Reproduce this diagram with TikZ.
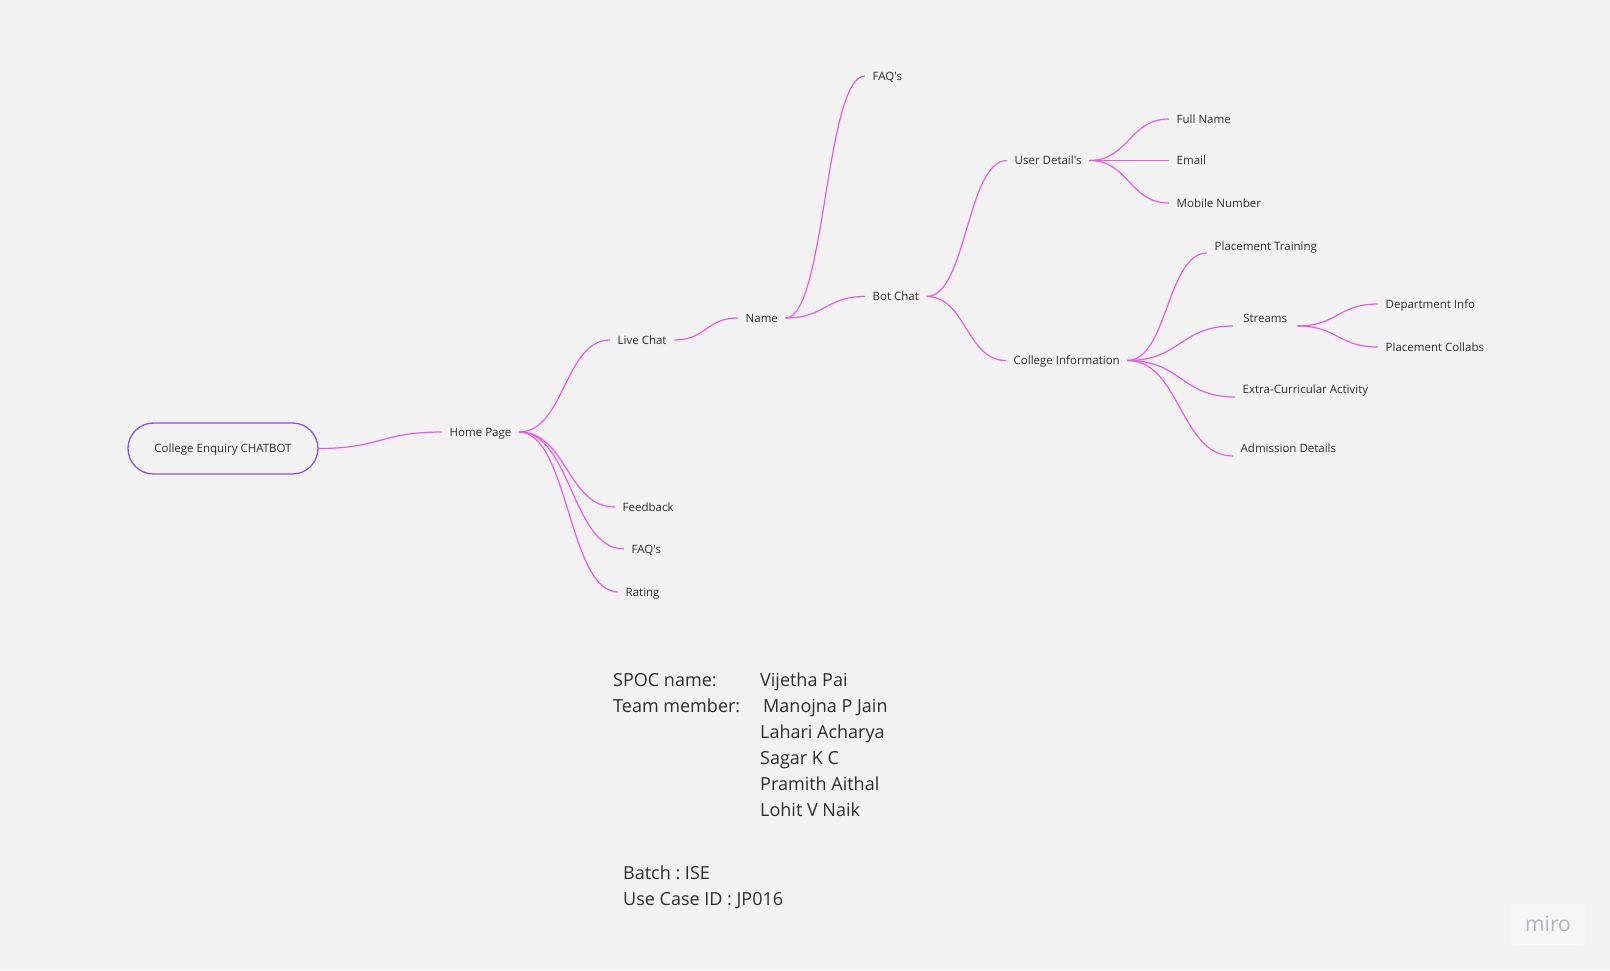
\documentclass[tikz,border=0pt]{standalone}
\usepackage{fontspec}
\setmainfont{Open Sans}[Ligatures=TeXOff]
\usetikzlibrary{calc}
\frenchspacing

\definecolor{canvas}{RGB}{242,242,242}
\definecolor{linkpink}{RGB}{232,92,228}
\definecolor{rootpurple}{RGB}{134,84,228}
\definecolor{labeltext}{RGB}{45,45,45}
\definecolor{mirobox}{RGB}{246,246,246}
\definecolor{mirogray}{RGB}{180,180,192}

% curved mind-map connector: leaves and enters horizontally
\newcommand\mmlink[2]{%
  \draw[link] let \p1=(#1), \p2=(#2) in
    (\p1) .. controls ({(\x1+\x2)/2},\y1) and ({(\x1+\x2)/2},\y2) .. (\p2);}

\begin{document}
\begin{tikzpicture}[x=1pt,y=-1pt,
  link/.style={draw=linkpink, line width=1.2pt},
  topic/.style={font=\fontsize{11.5}{14}\selectfont, text=labeltext,
    inner xsep=7.5pt, inner ysep=2pt, text height=8.2pt, text depth=0pt, anchor=west},
  rootnode/.style={draw=rootpurple, line width=1.3pt, rounded corners=25.5pt,
    minimum width=190pt, minimum height=51pt, inner sep=0pt,
    text height=8.2pt, text depth=0pt,
    font=\fontsize{11.5}{14}\selectfont, text=labeltext},
  info/.style={font=\fontsize{18}{22}\selectfont, text=labeltext, inner sep=0pt, anchor=base west}]

\fill[canvas] (0,0) rectangle (1610,970);
\useasboundingbox (0,0) rectangle (1610,970);

% central topic
\node[rootnode] (root) at (223,448.5) {College Enquiry CHATBOT};

% first level
\node[topic] (home) at (442,432) {Home Page};

% branches of the home page
\node[topic] (live) at (610,340) {Live Chat};
\node[topic] (feedback) at (615,507) {Feedback};
\node[topic] (faq) at (624,549) {FAQ's};
\node[topic] (rating) at (618,592) {Rating};

\node[topic] (name) at (738,318) {Name};
\node[topic] (faqtop) at (865,76) {FAQ's};
\node[topic] (bot) at (865,296.5) {Bot Chat};

\node[topic] (user) at (1007,160.5) {User Detail's};
\node[topic] (fullname) at (1169,119) {Full Name};
\node[topic] (email) at (1169,160.5) {Email};
\node[topic] (mobile) at (1169,203) {Mobile Number};

\node[topic] (college) at (1006,360.5) {College Information};
\node[topic] (training) at (1207,246) {Placement Training};
\node[topic, minimum width=64pt] (streams) at (1233,318) {Streams};
\node[topic] (dept) at (1378,304) {Department Info};
\node[topic] (collabs) at (1378,347) {Placement Collabs};
\node[topic] (extra) at (1235,389) {Extra-Curricular Activity};
\node[topic] (admission) at (1233,448) {Admission Details};

% connectors
\mmlink{root.east}{home.west}
\mmlink{home.east}{live.west}
\mmlink{home.east}{feedback.west}
\mmlink{home.east}{faq.west}
\mmlink{home.east}{rating.west}
\mmlink{live.east}{name.west}
\mmlink{name.east}{faqtop.west}
\mmlink{name.east}{bot.west}
\mmlink{bot.east}{user.west}
\mmlink{bot.east}{college.west}
\mmlink{user.east}{fullname.west}
\mmlink{user.east}{email.west}
\mmlink{user.east}{mobile.west}
\mmlink{college.east}{[yshift=-7pt]training.west}
\mmlink{college.east}{[yshift=-8pt]streams.west}
\mmlink{college.east}{[yshift=-8pt]extra.west}
\mmlink{college.east}{[yshift=-8pt]admission.west}
\mmlink{[yshift=-8pt]streams.east}{dept.west}
\mmlink{[yshift=-8pt]streams.east}{collabs.west}

% team details
\node[info] (spoclbl) at (613,686) {SPOC name:};
\node[info] (spoc) at (760,686) {Vijetha Pai};
\node[info] (teamlbl) at (613,712) {Team member:};
\node[info] (m1) at (763,712) {Manojna P Jain};
\node[info] (m2) at (760,738) {Lahari Acharya};
\node[info] (m3) at (760,764) {Sagar K C};
\node[info] (m4) at (760,790) {Pramith Aithal};
\node[info] (m5) at (760,816) {Lohit V Naik};
\node[info] (batch) at (623,879) {Batch : ISE};
\node[info] (usecase) at (623,905) {Use Case ID : JP016};

% watermark
\fill[mirobox, rounded corners=2pt] (1511,904) rectangle (1585,945);
\node[font=\fontsize{21}{21}\selectfont, text=mirogray, inner sep=0pt] (miro) at (1548,924) {miro};

\end{tikzpicture}
\end{document}
